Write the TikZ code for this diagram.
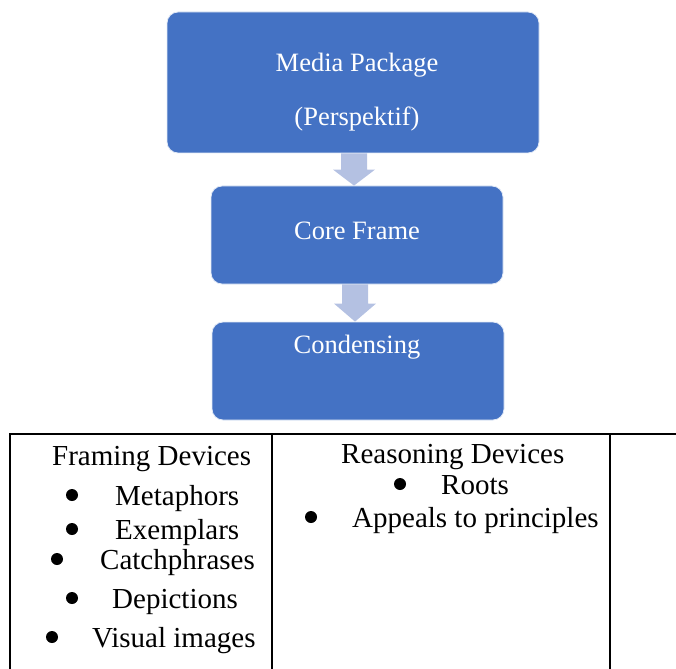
\documentclass[tikz,border=0pt]{standalone}
\usepackage{fontspec}
\setmainfont{Liberation Serif}
\usetikzlibrary{calc}
\definecolor{boxblue}{RGB}{68,114,196}
\definecolor{arrowblue}{RGB}{180,193,226}
\tikzset{
  flowbox/.style={draw=white!85!boxblue, line width=0.8pt, fill=boxblue,
    rounded corners=11pt, inner sep=0pt},
  boxtext/.style={text=white, inner sep=0pt, anchor=base,
    font=\fontsize{26.5}{30}\selectfont},
  downarrow/.style={fill=arrowblue, draw=none},
  celltext/.style={inner sep=0pt, anchor=base west,
    font=\fontsize{29}{33}\selectfont},
  rule/.style={line width=2pt, line cap=rect},
  dot/.style={fill=black}
}
\begin{document}
\begin{tikzpicture}[x=1pt, y=-1pt]
\useasboundingbox (0,0) rectangle (676,668);

% flow chart boxes
\node[flowbox, minimum width=372pt, minimum height=141pt] (pkg) at (353,82.5) {};
\node[flowbox, minimum width=292pt, minimum height=98pt] (core) at (357,235) {};
\node[flowbox, minimum width=292pt, minimum height=98pt] (cond) at (358,371) {};

\node[boxtext] (pkgA) at (357,72) {Media Package};
\node[boxtext] (pkgB) at (357,126) {(Perspektif)};
\node[boxtext] (coreT) at (357,239) {Core Frame};
\node[boxtext] (condT) at (357,353) {Condensing};

% block arrows between the boxes
\fill[downarrow]
  ($(pkg.south -| 354,0)+(-13,0)$) -- ($(pkg.south -| 354,0)+(13,0)$)
  -- ($(core.north -| 354,0)+(13,-16)$) -- ($(core.north -| 354,0)+(21,-16)$)
  -- (core.north -| 354,0) -- ($(core.north -| 354,0)+(-21,-16)$)
  -- ($(core.north -| 354,0)+(-13,-16)$) -- cycle;
\fill[downarrow]
  ($(core.south -| 355,0)+(-13,0)$) -- ($(core.south -| 355,0)+(13,0)$)
  -- ($(cond.north -| 355,0)+(13,-18)$) -- ($(cond.north -| 355,0)+(21,-18)$)
  -- (cond.north -| 355,0) -- ($(cond.north -| 355,0)+(-21,-18)$)
  -- ($(cond.north -| 355,0)+(-13,-18)$) -- cycle;

% table of devices
\coordinate (tl) at (10,434);
\coordinate (tr) at (676,434);
\coordinate (c1) at (272,434);
\coordinate (c2) at (610,434);
\draw[rule] (tr) -- (tl) -- (tl |- 0,672);
\draw[rule] (c1) -- (c1 |- 0,672);
\draw[rule] (c2) -- (c2 |- 0,672);

\node[celltext] (fd) at (52,465) {Framing Devices};
\node[celltext] (f1) at (115,505) {Metaphors};
\node[celltext] (f2) at (115,539) {Exemplars};
\node[celltext] (f3) at (100,569) {Catchphrases};
\node[celltext] (f4) at (112,608) {Depictions};
\node[celltext] (f5) at (92,647) {Visual images};
\fill[dot] (72,495) circle[radius=6pt];
\fill[dot] (72,529) circle[radius=6pt];
\fill[dot] (57,559) circle[radius=6pt];
\fill[dot] (72,598) circle[radius=6pt];
\fill[dot] (52,637) circle[radius=6pt];

\node[celltext] (rd) at (341,463) {Reasoning Devices};
\node[celltext] (r1) at (441,494) {Roots};
\node[celltext] (r2) at (352,527) {Appeals to principles};
\fill[dot] (400,484) circle[radius=6pt];
\fill[dot] (311,517) circle[radius=6pt];
\end{tikzpicture}
\end{document}
